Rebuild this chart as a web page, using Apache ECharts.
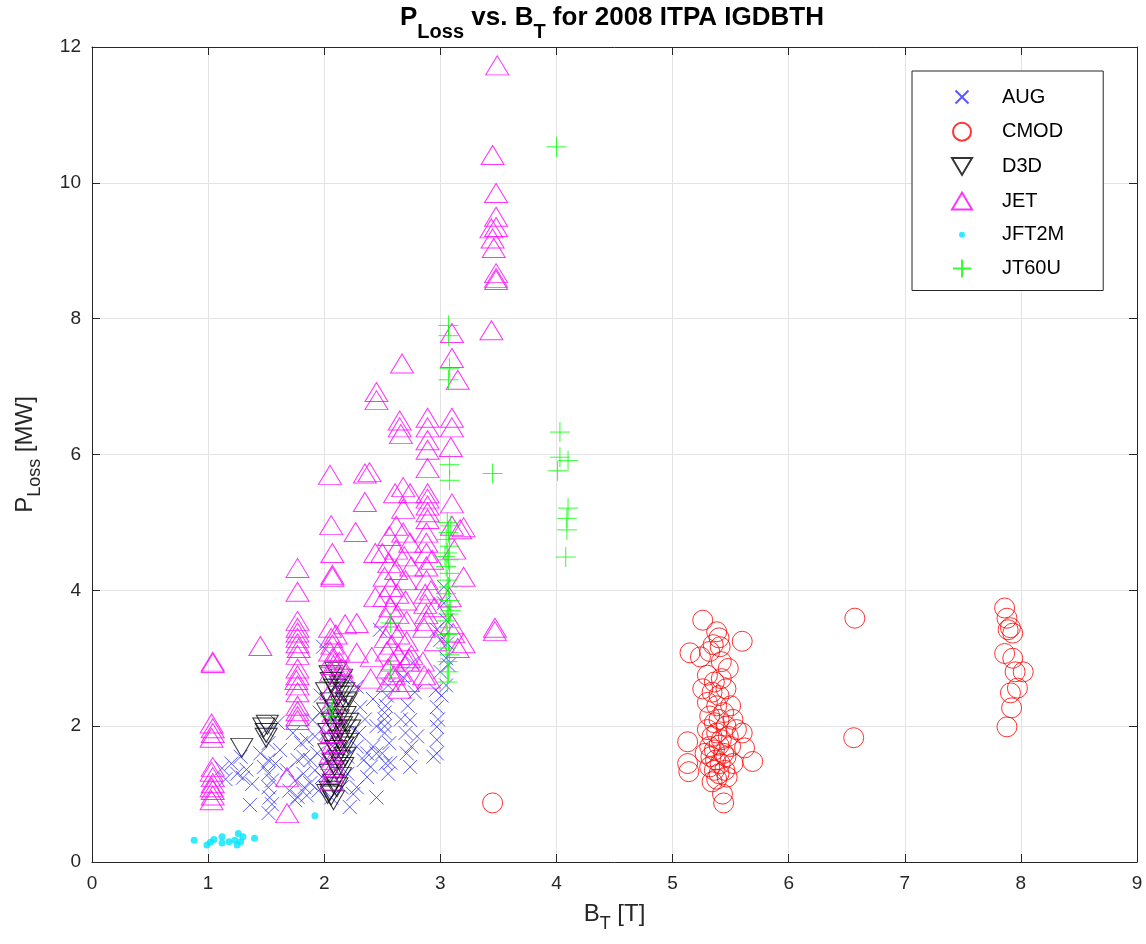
<!DOCTYPE html>
<html>
<head>
<meta charset="utf-8">
<title>PLoss vs BT</title>
<script src="https://cdn.jsdelivr.net/npm/echarts@6/dist/echarts.min.js"></script>
<style>
  html, body { margin: 0; padding: 0; background: #fff; }
  #chart { width: 1146px; height: 944px; }
</style>
</head>
<body>
<div id="chart"></div>
<script>
// Tokamak H-mode database (2008 ITPA IGDBTH): toroidal field B_T [T] vs loss power P_Loss [MW]
const xTicks = [0, 1, 2, 3, 4, 5, 6, 7, 8, 9];
const yTicks = [0, 2, 4, 6, 8, 10, 12];
const deviceNames = ['AUG', 'CMOD', 'D3D', 'JET', 'JFT2M', 'JT60U'];

const augPoints = [
  [1.12,1.38],[1.15,1.22],[1.20,1.45],[1.25,1.30],[1.28,1.55],[1.30,1.24],[1.33,1.36],[1.36,0.84],[1.38,1.15],
  [1.45,1.60],[1.48,1.40],[1.50,1.95],[1.52,1.75],[1.52,1.50],[1.52,1.30],[1.52,1.10],[1.53,0.95],[1.52,0.72],
  [1.55,1.20],[1.58,1.45],[1.55,0.85],[1.60,2.05],[1.62,1.65],
  [1.68,1.35],[1.70,1.05],[1.73,1.90],[1.75,0.91],[1.75,1.20],[1.77,1.50],[1.77,0.96],[1.80,1.75],[1.82,1.55],
  [1.82,1.30],[1.83,1.10],[1.85,1.80],[1.85,0.98],[1.88,1.50],[1.88,1.16],[1.90,2.09],[1.92,1.85],[1.92,1.35],
  [1.94,1.60],[1.95,1.05],[1.98,1.25],[1.99,3.17],[1.97,2.45],[1.96,2.20],
  [2.02,1.90],[2.03,1.50],[2.04,1.20],[2.05,2.30],[2.06,0.95],[2.07,1.70],[2.08,2.10],[2.10,1.35],[2.10,2.60],
  [2.12,1.55],[2.13,1.85],[2.15,1.10],[2.16,2.40],[2.18,1.70],[2.18,2.70],[2.20,1.30],[2.22,0.81],[2.22,2.00],[2.20,1.55],
  [2.25,1.00],[2.28,1.10],[2.28,1.70],[2.28,2.58],[2.30,1.90],[2.31,2.28],[2.34,1.50],[2.35,2.10],[2.37,1.25],
  [2.37,1.60],[2.40,1.40],[2.42,1.70],[2.42,2.40],[2.45,1.60],[2.45,0.95],[2.45,2.00],
  [2.48,3.42],[2.50,1.60],[2.52,2.20],[2.52,2.10],[2.52,2.00],[2.52,1.90],[2.53,2.30],[2.54,2.45],[2.53,1.45],
  [2.55,1.30],[2.57,1.46],[2.55,2.60],[2.56,1.75],
  [2.66,2.10],[2.68,2.72],[2.70,1.90],[2.71,1.60],[2.72,2.30],[2.74,2.09],[2.74,1.40],[2.76,2.93],[2.75,1.70],
  [2.78,2.50],[2.80,1.85],
  [2.94,1.55],[2.96,2.53],[2.97,2.28],[2.97,1.99],[2.97,1.80],[2.97,1.60],[2.97,3.42],[2.98,2.10],[3.00,2.80],
  [3.00,3.27],[3.01,2.45],[3.03,4.05],[3.03,3.81],[3.06,3.22],[3.05,3.56],[3.05,2.60],[3.05,3.00],[3.07,2.90]
];

const cmodPoints = [
  [3.45,0.87],[6.57,3.59],[6.56,1.83],
  [7.86,3.74],[7.88,3.59],[7.89,3.42],[7.93,3.37],[7.91,3.45],[7.86,3.07],[7.93,3.00],[8.02,2.80],[7.95,2.80],
  [7.97,2.56],[7.91,2.49],[7.92,2.27],[7.88,1.99],
  [5.26,3.56],[5.38,3.39],[5.40,3.30],[5.35,3.20],[5.60,3.25],[5.15,3.08],[5.24,3.02],[5.32,3.10],[5.41,3.17],
  [5.42,2.95],[5.48,2.85],[5.30,2.75],[5.36,2.65],[5.42,2.70],[5.26,2.55],[5.34,2.50],[5.40,2.45],[5.46,2.55],
  [5.30,2.35],[5.38,2.30],[5.44,2.20],[5.50,2.30],[5.32,2.15],[5.36,2.05],[5.40,2.10],[5.46,2.00],[5.52,2.10],
  [5.30,1.95],[5.34,1.85],[5.38,1.90],[5.42,1.80],[5.48,1.85],[5.55,1.95],[5.32,1.70],[5.36,1.65],[5.40,1.72],
  [5.44,1.60],[5.50,1.70],[5.33,1.55],[5.37,1.50],[5.41,1.45],[5.46,1.55],[5.32,1.40],[5.36,1.35],[5.40,1.30],
  [5.45,1.35],[5.38,1.22],[5.34,1.18],[5.43,1.00],[5.44,0.87],[5.13,1.77],[5.13,1.45],[5.14,1.33],[5.60,1.90],
  [5.62,1.68],[5.69,1.48],[5.47,1.25],[5.52,1.45],[5.28,1.60]
];

const d3dPoints = [
  [1.29,1.68],[1.48,1.98],[1.50,1.90],[1.51,2.02],[1.50,1.83],
  [2.02,2.50],[2.03,2.20],[2.04,1.90],[2.04,1.60],[2.05,1.30],[2.05,1.05],[2.06,2.65],[2.06,2.35],[2.07,2.05],
  [2.07,1.75],[2.08,1.45],[2.08,1.15],[2.08,0.91],[2.09,2.55],[2.10,2.25],[2.10,1.95],[2.10,1.65],[2.11,1.35],
  [2.11,1.10],[2.12,2.45],[2.12,2.10],[2.13,1.80],[2.13,1.50],[2.14,1.25],[2.14,2.60],[2.15,2.30],[2.15,2.00],
  [2.16,1.70],[2.16,1.40],[2.17,2.50],[2.18,2.15],[2.18,1.85],[2.18,1.55],[2.19,2.35],[2.20,2.05],[2.20,1.75],
  [2.21,2.45],[2.22,1.95],[2.05,2.75],[2.10,2.80],[2.15,2.70],[2.03,1.00],[2.06,0.98]
];

const jetPoints = [
  [1.04,2.95],[1.04,2.93],[1.03,2.04],[1.04,1.97],[1.04,1.90],[1.03,1.83],[1.04,1.40],[1.03,1.33],[1.04,1.25],
  [1.04,1.16],[1.03,1.10],[1.04,1.06],[1.04,0.98],[1.03,0.91],
  [1.45,3.18],[1.68,1.25],[1.68,0.72],
  [1.77,4.33],[1.77,3.98],[1.77,3.55],[1.77,3.45],[1.77,3.38],[1.77,3.30],[1.77,3.22],[1.78,3.15],[1.77,3.05],
  [1.77,2.85],[1.77,2.75],[1.76,2.68],[1.77,2.60],[1.77,2.50],[1.77,2.30],[1.77,2.22],[1.77,2.15],[1.77,2.09],
  [2.05,5.70],[2.06,4.96],[2.07,4.55],[2.07,4.23],[2.07,4.20],[2.05,3.45],[2.06,3.30],[2.07,3.20],[2.05,3.10],
  [2.07,3.00],[2.08,2.90],[2.06,2.80],[2.10,3.35],[2.12,3.10],[2.13,2.95],[2.15,2.85],
  [2.06,2.53],[2.07,2.35],[2.08,2.20],[2.06,2.05],[2.07,1.90],[2.08,1.75],[2.06,1.60],[2.07,1.50],[2.08,1.40],
  [2.07,1.30],[2.06,1.20],
  [2.18,3.50],[2.20,2.65],[2.27,4.86],[2.28,3.52],[2.28,3.08],[2.35,5.72],[2.35,5.30],[2.41,3.02],[2.44,4.55],
  [2.45,6.92],[2.45,6.80],[2.44,3.90],[2.40,2.70],[2.39,5.74],
  [2.50,4.55],[2.52,4.20],[2.52,3.90],[2.53,3.60],[2.53,3.30],[2.54,3.10],[2.55,2.85],[2.55,2.65],[2.56,4.80],
  [2.56,4.40],[2.57,4.05],[2.57,3.75],[2.58,3.45],[2.58,3.20],[2.59,2.95],[2.60,2.75],[2.61,5.43],[2.62,4.95],
  [2.62,4.60],[2.62,4.30],[2.63,3.95],[2.63,3.65],[2.64,3.35],[2.64,3.05],[2.65,2.80],[2.65,2.55],[2.65,6.50],
  [2.65,6.40],[2.67,7.34],[2.66,6.30],[2.68,5.52],[2.68,5.20],[2.68,4.85],[2.69,4.50],[2.70,4.15],[2.70,3.85],
  [2.71,3.55],[2.71,3.25],[2.72,2.95],[2.72,2.65],[2.74,5.43],[2.74,4.70],[2.75,4.35],[2.75,3.05],[2.73,3.00],
  [2.89,6.54],[2.89,6.40],[2.89,6.21],[2.89,6.07],[2.89,5.80],[2.89,5.43],[2.89,5.35],[2.89,5.25],[2.89,5.15],
  [2.89,5.05],[2.88,4.85],[2.88,4.70],[2.88,4.55],[2.88,4.35],[2.88,4.15],[2.87,3.95],[2.87,3.80],[2.88,3.65],
  [2.88,3.55],[2.86,3.45],[2.85,2.95],[2.86,2.75],[2.90,2.70],[2.92,4.00],[2.95,3.75],[2.93,4.45],[2.96,3.25],
  [3.10,7.79],[3.10,7.42],[3.15,7.10],[3.10,6.54],[3.10,6.40],[3.09,6.11],[3.10,5.28],[3.10,4.95],[3.20,4.93],
  [3.17,4.90],[3.20,4.20],[3.11,3.37],[3.20,3.22],[3.15,3.15],[3.12,4.60],[3.08,3.90],[3.10,3.50],
  [3.44,7.83],[3.49,11.73],[3.45,10.41],[3.48,9.85],[3.48,9.50],[3.44,9.33],[3.48,9.35],[3.45,9.18],[3.46,9.04],
  [3.48,8.67],[3.48,8.60],[3.48,8.57],[3.47,3.45],[3.47,3.40]
];

const jft2mPoints = [
  [0.88,0.32],[0.99,0.25],[1.02,0.29],[1.05,0.33],[1.12,0.37],[1.12,0.28],[1.23,0.32],[1.26,0.42],[1.25,0.25],
  [1.28,0.30],[1.30,0.37],[1.40,0.35],[1.18,0.30],[1.92,0.68]
];

const jt60uPoints = [
  [4.00,10.53],[3.07,7.90],[3.07,7.75],[3.08,7.27],[3.07,7.10],[3.08,5.85],[3.08,5.62],[3.45,5.72],[4.03,6.33],
  [4.03,5.96],[4.10,5.91],[4.01,5.76],[4.10,5.21],[4.09,5.06],[4.09,4.89],[4.08,4.49],
  [3.06,5.00],[3.07,4.85],[3.05,4.75],[3.08,4.65],[3.06,4.55],[3.07,4.45],[3.05,4.35],[3.08,4.25],[3.06,4.15],
  [3.07,4.05],[3.05,3.95],[3.08,3.85],[3.06,3.75],[3.07,3.65],[3.05,3.55],[3.08,3.45],[3.06,3.35],[3.07,3.25],
  [3.05,3.15],[3.08,3.05],[3.06,2.95],[3.07,2.80],[3.06,2.65],[3.09,4.95],[3.04,4.50],[3.09,3.70],
  [2.57,3.52],[2.57,2.83],[2.07,2.27],[2.05,2.15]
];

// marker shapes (MATLAB-style x, +, down triangle)
const CROSS = 'path://M0,0L10,10M10,0L0,10';
const PLUS = 'path://M5,0L5,10M0,5L10,5';
// legend icons: invisible move-to corners keep the 22x20 cell so glyphs keep their own size
const LEG_CROSS = 'path://M0,0M22,20M4.5,3.5L17.5,16.5M17.5,3.5L4.5,16.5';
const LEG_DOWN = 'path://M0,0M22,20M1,1.5L21,1.5L11,18.5Z';
const LEG_UP = 'path://M0,0M22,20M11,1.5L21,18.5L1,18.5Z';
const LEG_CIRCLE = 'path://M0,0M22,20M20,10A9,9,0,1,1,2,10A9,9,0,1,1,20,10Z';
const LEG_DOT = 'path://M0,0M22,20M14,10A3,3,0,1,1,8,10A3,3,0,1,1,14,10Z';
const LEG_PLUS = 'path://M0,0M22,20M11,1L11,19M2,10L20,10';
const legendIcons = [LEG_CROSS, LEG_CIRCLE, LEG_DOWN, LEG_UP, LEG_DOT, LEG_PLUS];

const TXT = '#262626';
const FONT = '"Liberation Sans", Arial, Helvetica, sans-serif';

function hollow(name, data, symbol, size, color, extra) {
  return Object.assign({
    name: name,
    type: 'scatter',
    data: data,
    symbol: symbol,
    symbolSize: size,
    itemStyle: { color: 'transparent', borderColor: color, borderWidth: 1 },
    emphasis: { disabled: true },
    z: 2
  }, extra || {});
}

function subLabel(size, subSize, color, weight, drop) {
  return {
    a: { fontFamily: FONT, fontSize: size, fontWeight: weight, color: color, lineHeight: size + 10, verticalAlign: 'top' },
    s: { fontFamily: FONT, fontSize: subSize, fontWeight: weight, color: color, lineHeight: size + 10, verticalAlign: 'top', padding: [drop, 0, 0, 0] }
  };
}

const chart = echarts.init(document.getElementById('chart'), null, { renderer: 'canvas' });

const option = {
  animation: false,
  backgroundColor: '#ffffff',
  textStyle: { fontFamily: FONT },
  title: {
    text: '{a|P}{s|Loss}{a| vs. B}{s|T}{a| for 2008 ITPA IGDBTH}',
    left: 607,
    textAlign: 'center',
    top: 0,
    textStyle: { rich: subLabel(26, 20, '#000', 'bold', 17) }
  },
  legend: {
    orient: 'vertical',
    left: 912,
    top: 71,
    padding: [15, 39, 11, 38],
    itemWidth: 22,
    itemHeight: 20,
    itemGap: 12.7,
    backgroundColor: '#ffffff',
    borderColor: TXT,
    borderWidth: 1,
    borderRadius: 0,
    data: deviceNames.map((n, i) => ({ name: n, icon: legendIcons[i] })),
    textStyle: { fontFamily: FONT, fontSize: 20, color: '#000', padding: [0, 0, 0, 24] }
  },
  grid: { left: 92, top: 47, right: 9, bottom: 82, show: false },
  xAxis: [
    {
      type: 'value', min: 0, max: 9, interval: 1,
      name: '{a|B}{s|T}{a| [T]}',
      nameLocation: 'middle',
      nameGap: 40,
      nameTextStyle: { rich: subLabel(24, 18, TXT, 'normal', 13) },
      axisLine: { show: true, onZero: false, lineStyle: { color: TXT, width: 1 } },
      axisTick: { show: true, inside: true, length: 8, lineStyle: { color: TXT } },
      axisLabel: { fontFamily: FONT, fontSize: 19, color: TXT, margin: 12 },
      splitLine: { show: true, lineStyle: { color: '#e3e3e3', width: 1 } }
    },
    {
      type: 'value', min: 0, max: 9, interval: 1, position: 'top',
      axisLine: { show: true, onZero: false, lineStyle: { color: TXT, width: 1 } },
      axisTick: { show: true, inside: true, length: 8, lineStyle: { color: TXT } },
      axisLabel: { show: false },
      splitLine: { show: false }
    }
  ],
  yAxis: [
    {
      type: 'value', min: 0, max: 12, interval: 2,
      name: '{a|P}{s|Loss}{a| [MW]}',
      nameLocation: 'middle',
      nameGap: 45,
      nameRotate: 90,
      nameTextStyle: { rich: subLabel(24, 18, TXT, 'normal', 13) },
      axisLine: { show: true, onZero: false, lineStyle: { color: TXT, width: 1 } },
      axisTick: { show: true, inside: true, length: 8, lineStyle: { color: TXT } },
      axisLabel: { fontFamily: FONT, fontSize: 19, color: TXT, margin: 11 },
      splitLine: { show: true, lineStyle: { color: '#e3e3e3', width: 1 } }
    },
    {
      type: 'value', min: 0, max: 12, interval: 2, position: 'right',
      axisLine: { show: true, onZero: false, lineStyle: { color: TXT, width: 1 } },
      axisTick: { show: true, inside: true, length: 8, lineStyle: { color: TXT } },
      axisLabel: { show: false },
      splitLine: { show: false }
    }
  ],
  series: [
    hollow('AUG', augPoints, CROSS, 14, '#2f2fff'),
    hollow('CMOD', cmodPoints, 'circle', 20, '#ff0000'),
    hollow('D3D', d3dPoints, 'triangle', [22, 19], '#000000', { symbolRotate: 180 }),
    hollow('JET', jetPoints, 'triangle', [23, 19], '#ff00ff'),
    {
      name: 'JFT2M', type: 'scatter', data: jft2mPoints, symbol: 'circle', symbolSize: 7,
      itemStyle: { color: '#00e5ff' }, emphasis: { disabled: true }, z: 2
    },
    hollow('JT60U', jt60uPoints, PLUS, 20, '#00ff00')
  ]
};

chart.setOption(option);
</script>
</body>
</html>
